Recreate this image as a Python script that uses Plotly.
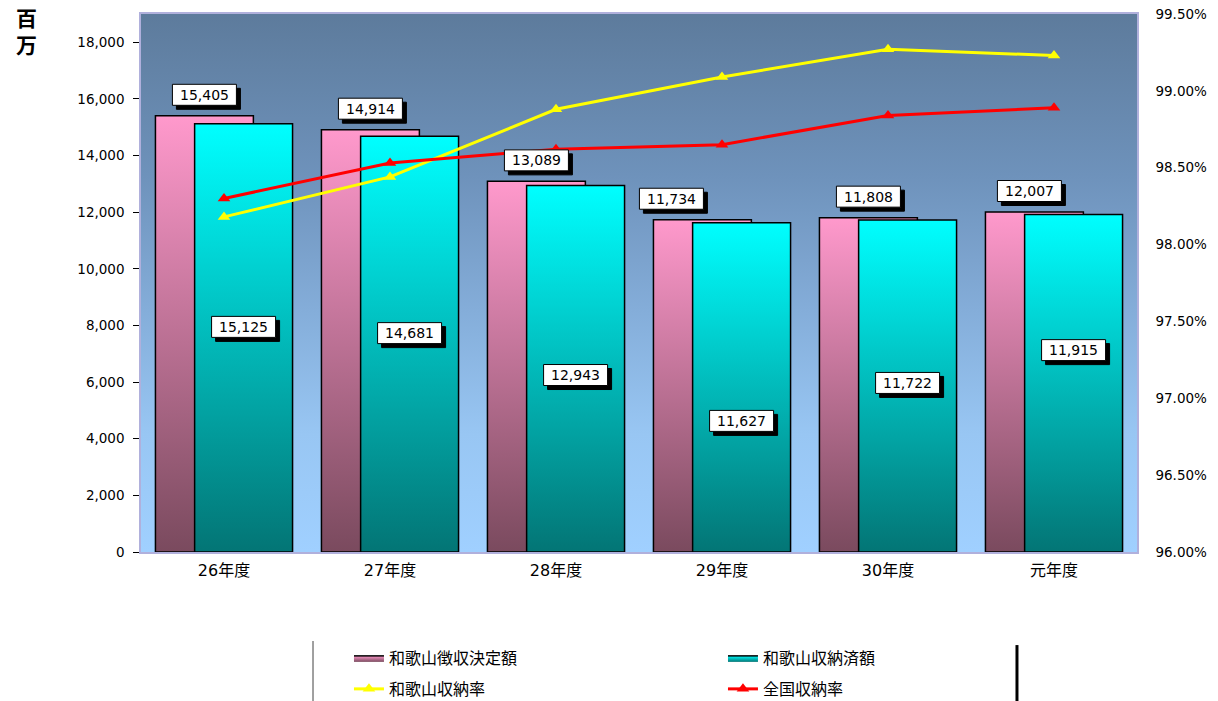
import base64
import plotly.graph_objects as go

# ---------------- data ----------------
categories = ["26年度", "27年度", "28年度", "29年度", "30年度", "元年度"]
kettei = [15405, 14914, 13089, 11734, 11808, 12007]      # 和歌山徴収決定額 (百万)
shuno = [15125, 14681, 12943, 11627, 11722, 11915]       # 和歌山収納済額 (百万)
rate_wakayama = [0.9818, 0.9844, 0.9888, 0.9909, 0.9927, 0.9923]  # 和歌山収納率
rate_zenkoku = [0.9830, 0.9853, 0.9862, 0.9865, 0.9884, 0.9889]   # 全国収納率

left_ticks = [0, 2000, 4000, 6000, 8000, 10000, 12000, 14000, 16000, 18000]
right_ticks = [0.96, 0.965, 0.97, 0.975, 0.98, 0.985, 0.99, 0.995]

# label placement (positions only)
kettei_label_dx = [0, 0, 0, -31, 0, -5]
shuno_label_y = [7950, 7730, 6250, 4630, 5970, 7130]

# ---------------- styles ----------------
NUM_FONT = "DejaVu Sans, Noto Sans CJK JP"
JP_FONT = "Noto Sans CJK JP"
BAR_W = 0.59
PINK_OFF = -0.413
CYAN_OFF = -0.177
PINK_SCALE = [[0, "#7A4A5E"], [1, "#FF99CC"]]
CYAN_SCALE = [[0, "#037575"], [1, "#00FFFF"]]
BOX_W, BOX_H, SHADOW = 64, 21, 4

fig = go.Figure()


def bar_polygon(i, off, val):
    x0 = i + off
    x1 = x0 + BAR_W
    return [x0, x0, x1, x1, x0], [0, val, val, 0, 0]


for i, v in enumerate(kettei):
    xs, ys = bar_polygon(i, PINK_OFF, v)
    fig.add_trace(go.Scatter(
        x=xs, y=ys, mode="lines", fill="toself",
        fillgradient=dict(type="vertical", colorscale=PINK_SCALE),
        line=dict(color="black", width=1.5),
        name="和歌山徴収決定額", showlegend=(i == 0), legend="legend",
        hoverinfo="skip"))

for i, v in enumerate(shuno):
    xs, ys = bar_polygon(i, CYAN_OFF, v)
    fig.add_trace(go.Scatter(
        x=xs, y=ys, mode="lines", fill="toself",
        fillgradient=dict(type="vertical", colorscale=CYAN_SCALE),
        line=dict(color="black", width=1.5),
        name="和歌山収納済額", showlegend=(i == 0), legend="legend",
        hoverinfo="skip"))

xpos = list(range(len(categories)))
fig.add_trace(go.Scatter(
    x=xpos, y=rate_wakayama, yaxis="y2", mode="lines+markers",
    line=dict(color="#FFFF00", width=3),
    marker=dict(symbol="triangle-up", size=11, color="#FFFF00"),
    name="和歌山収納率", legend="legend2"))
fig.add_trace(go.Scatter(
    x=xpos, y=rate_zenkoku, yaxis="y2", mode="lines+markers",
    line=dict(color="#FF0000", width=3),
    marker=dict(symbol="triangle-up", size=11, color="#FF0000"),
    name="全国収納率", legend="legend2"))

# ---------------- data labels (box + drop shadow as pixel-sized shapes) ----------------
annotations = []
shapes = []


def add_label(x, y, text, dx=0, dy=0):
    for off, col in ((SHADOW, "black"), (0, "white")):
        shapes.append(dict(
            type="rect", xref="x", yref="y", xsizemode="pixel", ysizemode="pixel",
            xanchor=x, yanchor=y,
            x0=dx - BOX_W / 2 + off, x1=dx + BOX_W / 2 + off,
            y0=dy - BOX_H / 2 - off, y1=dy + BOX_H / 2 - off,
            fillcolor=col, line=dict(color="black", width=1), layer="above"))
    annotations.append(dict(x=x, y=y, xref="x", yref="y", text=text, showarrow=False,
                            xanchor="center", yanchor="middle", xshift=dx, yshift=dy,
                            font=dict(family=NUM_FONT, size=14, color="black")))


for i, v in enumerate(kettei):
    add_label(i + PINK_OFF + BAR_W / 2, v, f"{v:,}", dx=kettei_label_dx[i], dy=21)
for i, v in enumerate(shuno):
    add_label(i + CYAN_OFF + BAR_W / 2, shuno_label_y[i], f"{v:,}")

annotations.append(dict(x=-0.1145, y=0.969, xref="paper", yref="paper", text="<b>百<br>万</b>",
                        showarrow=False, xanchor="center", yanchor="middle",
                        font=dict(family=JP_FONT, size=21, color="black")))

# legend frame lines
shapes += [
    dict(type="line", xref="paper", yref="paper", x0=0.1727, x1=0.1727, y0=-0.1654, y1=-0.29,
         line=dict(color="#808080", width=1.5)),
    dict(type="line", xref="paper", yref="paper", x0=0.8795, x1=0.8795, y0=-0.173, y1=-0.29,
         line=dict(color="black", width=3)),
]

# ---------------- plot background gradient ----------------
svg = ('<svg xmlns="http://www.w3.org/2000/svg" width="10" height="100" viewBox="0 0 10 100" '
       'preserveAspectRatio="none"><defs><linearGradient id="g" x1="0" y1="0" x2="0" y2="1">'
       '<stop offset="0" stop-color="#5D7B9C"/><stop offset="0.3" stop-color="#6E92BB"/>'
       '<stop offset="0.55" stop-color="#84ADD9"/><stop offset="0.78" stop-color="#98C6F3"/>'
       '<stop offset="1" stop-color="#A0D0FF"/></linearGradient></defs>'
       '<rect x="0" y="0" width="10" height="100" fill="url(#g)"/></svg>')
svg_uri = "data:image/svg+xml;base64," + base64.b64encode(svg.encode()).decode()

legend_common = dict(orientation="h", x=0.2088, xanchor="left", yanchor="middle",
                     entrywidth=329, entrywidthmode="pixels", traceorder="normal",
                     font=dict(family=JP_FONT, size=16, color="black"),
                     bgcolor="rgba(0,0,0,0)")

fig.update_layout(
    width=1218, height=701,
    margin=dict(l=141, r=81, t=14, b=149, pad=0, autoexpand=False),
    paper_bgcolor="white",
    plot_bgcolor="rgba(0,0,0,0)",
    images=[dict(source=svg_uri, xref="paper", yref="paper", x=0, y=1, sizex=1, sizey=1,
                 xanchor="left", yanchor="top", sizing="stretch", layer="below")],
    xaxis=dict(range=[-0.5, 5.5], tickvals=xpos, ticktext=categories, showgrid=False,
               zeroline=False, showline=True, mirror=True, linecolor="#B0B0DC", linewidth=1.5,
               ticks="", ticklabelstandoff=3,
               tickfont=dict(family=NUM_FONT, size=16, color="black")),
    yaxis=dict(range=[0, 19000], tickvals=left_ticks, tickformat=",d", showgrid=False,
               zeroline=False, showline=True, linecolor="#B0B0DC", linewidth=1.5,
               ticks="outside", ticklen=6, tickcolor="black", tickwidth=1,
               ticklabelstandoff=6,
               tickfont=dict(family=NUM_FONT, size=13.5, color="black")),
    yaxis2=dict(range=[0.96, 0.995], tickvals=right_ticks, tickformat=".2%", overlaying="y",
                side="right", showgrid=False, zeroline=False, showline=True,
                linecolor="#B0B0DC", linewidth=1.5, ticks="", ticklabelstandoff=14,
                tickfont=dict(family=NUM_FONT, size=13.5, color="black")),
    legend=dict(legend_common, y=-0.197),
    legend2=dict(legend_common, y=-0.2546),
    annotations=annotations,
    shapes=shapes,
    showlegend=True,
)

fig.write_html("out.html")
